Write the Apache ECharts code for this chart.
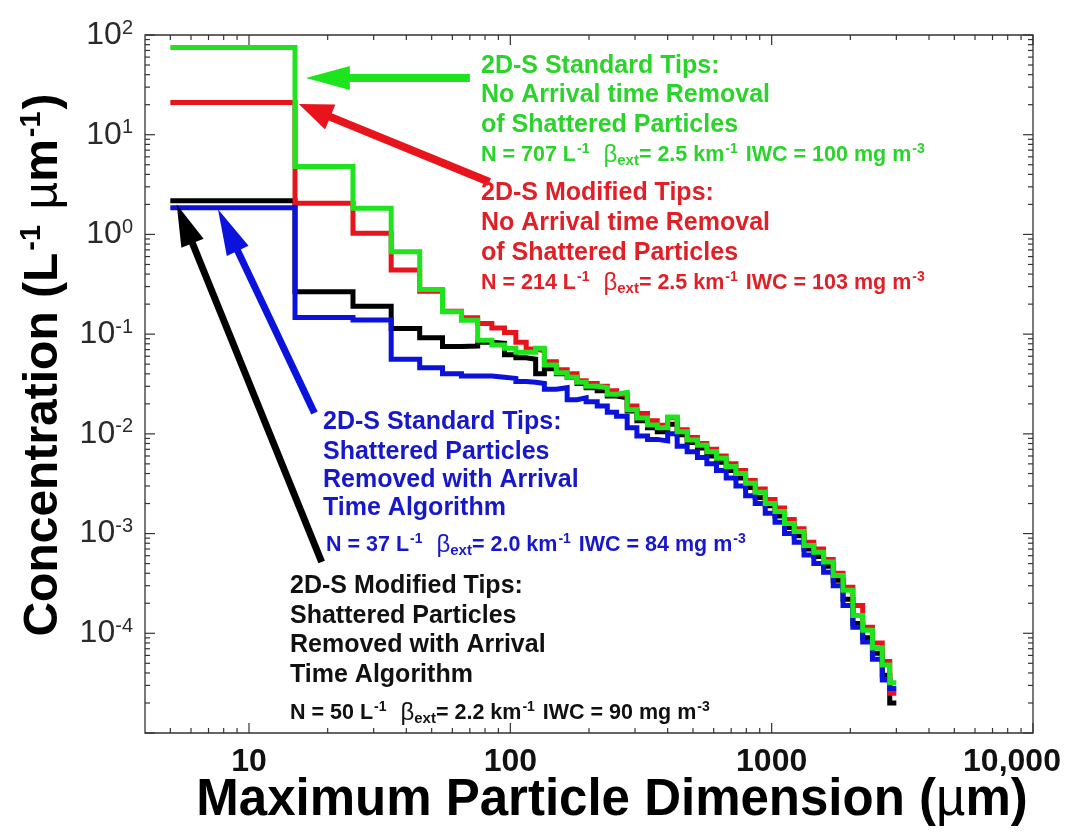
<!DOCTYPE html>
<html>
<head>
<meta charset="utf-8">
<script src="https://cdn.jsdelivr.net/npm/echarts@6/dist/echarts.min.js"></script>
<style>
  html, body { margin: 0; padding: 0; background: #ffffff; }
  #chart { width: 1069px; height: 837px; }
</style>
</head>
<body>
<div id="chart"></div>
<script>
// Size-bin edges (µm) shared by all four 2D-S size distributions
const binEdges = [5, 15, 25, 35, 45, 55, 65, 75, 85, 95,
  105, 115, 125, 135, 150, 165, 180, 195, 215, 235,
  255, 280, 305, 335, 365, 400, 435, 475, 520, 565,
  615, 670, 730, 795, 865, 945, 1030, 1120, 1220, 1330,
  1450, 1580, 1720, 1875, 2045, 2230, 2430, 2650, 2830, 3000];

// Concentration per bin (L^-1 µm^-1)
// 2D-S standard tips, no arrival-time removal
const stdNoRemoval = [75, 4.8, 1.83, 0.67, 0.28, 0.168, 0.138, 0.087, 0.078, 0.072,
  0.066, 0.066, 0.072, 0.049, 0.041, 0.037, 0.033, 0.030, 0.029, 0.025,
  0.026, 0.0174, 0.0144, 0.0123, 0.0115, 0.0148, 0.0105, 0.0087, 0.0077, 0.0066,
  0.0057, 0.0047, 0.0040, 0.0032, 0.0026, 0.0020, 0.00166, 0.00126, 0.00105, 0.00076,
  0.00065, 0.00052, 0.00038, 0.00027, 0.000151, 0.000107, 0.000071, 0.000048, 0.000032];
// 2D-S modified tips, no arrival-time removal
const modNoRemoval = [21, 2.05, 1.03, 0.44, 0.27, 0.17, 0.146, 0.128, 0.115, 0.104,
  0.083, 0.071, 0.068, 0.053, 0.044, 0.040, 0.034, 0.032, 0.030, 0.027,
  0.025, 0.019, 0.016, 0.0135, 0.0122, 0.0145, 0.011, 0.0092, 0.0080, 0.0070,
  0.0060, 0.0050, 0.0043, 0.0034, 0.0028, 0.0022, 0.0018, 0.00138, 0.00112, 0.00082,
  0.00070, 0.00055, 0.00040, 0.00029, 0.00019, 0.000115, 0.000080, 0.000052, 0.000025];
// 2D-S standard tips, shattered particles removed
const stdRemoved = [1.85, 0.147, 0.139, 0.056, 0.046, 0.040, 0.038, 0.038, 0.037, 0.036,
  0.0335, 0.033, 0.032, 0.028, 0.029, 0.022, 0.023, 0.021, 0.019, 0.0165,
  0.015, 0.0115, 0.0095, 0.0088, 0.0085, 0.0100, 0.0075, 0.0066, 0.0058, 0.0050,
  0.0043, 0.0036, 0.0030, 0.0024, 0.0020, 0.0016, 0.0013, 0.0010, 0.00082, 0.00061,
  0.00050, 0.00041, 0.00030, 0.00019, 0.000115, 0.000082, 0.000055, 0.000034, 0.000028];
// 2D-S modified tips, shattered particles removed
const modRemoved = [2.18, 0.266, 0.19, 0.114, 0.092, 0.075, 0.076, 0.083, 0.081, 0.062,
  0.058, 0.056, 0.040, 0.045, 0.040, 0.037, 0.032, 0.029, 0.027, 0.024,
  0.023, 0.017, 0.0135, 0.0115, 0.0105, 0.0125, 0.0098, 0.0082, 0.0072, 0.0060,
  0.0052, 0.0043, 0.0036, 0.0029, 0.0023, 0.0019, 0.0015, 0.00115, 0.00095, 0.00070,
  0.00059, 0.00047, 0.00034, 0.00022, 0.000125, 0.000090, 0.000063, 0.000038, 0.000020];

// Bulk quantities quoted for each distribution: green, red, blue, black
const totalN = [707, 214, 37, 50];
const betaExt = ['2.5', '2.5', '2.0', '2.2'];
const iwc = [100, 103, 84, 90];

// Axis labels
const xTickValues = [10, 100, 1000, 10000];
const xTickLabels = ['10', '100', '1000', '10,000'];
const yDecades = [2, 1, 0, -1, -2, -3, -4];

const X_MIN = 4, X_MAX = 10000, Y_MIN = 1e-5, Y_MAX = 100;
const FONT = "'Liberation Sans', Arial, Helvetica, sans-serif";
const C = {
  green: '#1ee41e', red: '#e8141c', blue: '#0a12dc', black: '#000000',
  greenText: '#2ad42a', redText: '#e01f26', blueText: '#1717cc', blackText: '#111111'
};

// Step outline: each bin value held from its lower edge to its upper edge
function stepData(vals) {
  return binEdges.map((e, i) => [e, vals[Math.min(i, vals.length - 1)]]);
}

function isDecade(v) {
  const l = Math.log10(v);
  return Math.abs(l - Math.round(l)) < 1e-6;
}

// Tick positions: every 1..9 multiple of each decade inside the axis range
const xTicks = [];
for (let p = 0; p <= 4; p++) for (let m = 1; m <= 9; m++) {
  const v = m * Math.pow(10, p);
  if (v > X_MIN && v <= X_MAX) xTicks.push(v);
}
const yTicks = [];
for (let p = -5; p <= 2; p++) for (let m = 1; m <= 9; m++) {
  const v = m * Math.pow(10, p);
  if (v >= Y_MIN && v <= Y_MAX * 1.0001) yTicks.push(v);
}

const TICK_STYLE = { stroke: '#333', lineWidth: 1.2 };

function xTickItem(params, api) {
  const v = api.value(0);
  const len = isDecade(v) ? 10 : 5;
  const b = api.coord([v, Y_MIN]);
  const t = api.coord([v, Y_MAX]);
  return { type: 'group', children: [
    { type: 'line', shape: { x1: b[0], y1: b[1], x2: b[0], y2: b[1] - len }, style: TICK_STYLE },
    { type: 'line', shape: { x1: t[0], y1: t[1], x2: t[0], y2: t[1] + len }, style: TICK_STYLE }
  ] };
}
function yTickItem(params, api) {
  const v = api.value(1);
  const len = isDecade(v) ? 10 : 5;
  const l = api.coord([X_MIN, v]);
  const r = api.coord([X_MAX, v]);
  return { type: 'group', children: [
    { type: 'line', shape: { x1: l[0], y1: l[1], x2: l[0] + len, y2: l[1] }, style: TICK_STYLE },
    { type: 'line', shape: { x1: r[0], y1: r[1], x2: r[0] - len, y2: r[1] }, style: TICK_STYLE }
  ] };
}

// Pointer arrows: tail and tip given in data units, head drawn as a filled triangle
const ARROW_STYLE = {
  green: { color: C.green, shaft: 8, headLen: 44, headW: 24 },
  red:   { color: C.red,   shaft: 8, headLen: 34, headW: 27 },
  blue:  { color: C.blue,  shaft: 7, headLen: 46, headW: 24 },
  black: { color: C.black, shaft: 7, headLen: 42, headW: 24 }
};
const arrowDefs = [
  { key: 'black', tail: [18.97, 5.18e-4], tip: [5.29, 2.0] },
  { key: 'red',   tail: [83.2, 3.36],     tip: [15.5, 20.3] },
  { key: 'blue',  tail: [17.8, 0.0162],   tip: [7.61, 1.79] },
  { key: 'green', tail: [70, 37],         tip: [16.5, 37] }
];
function arrowItem(params, api) {
  const def = arrowDefs[params.dataIndex];
  const st = ARROW_STYLE[def.key];
  const a = api.coord([api.value(0), api.value(1)]);
  const b = api.coord([api.value(2), api.value(3)]);
  const dx = b[0] - a[0], dy = b[1] - a[1];
  const L = Math.sqrt(dx * dx + dy * dy);
  const ux = dx / L, uy = dy / L, nx = -uy, ny = ux;
  const bx = b[0] - ux * st.headLen, by = b[1] - uy * st.headLen;
  const hw = st.headW / 2;
  return { type: 'group', children: [
    { type: 'line', shape: { x1: a[0], y1: a[1], x2: bx + ux * 2, y2: by + uy * 2 },
      style: { stroke: st.color, lineWidth: st.shaft, lineCap: 'butt' } },
    { type: 'polygon', shape: { points: [[b[0], b[1]], [bx + nx * hw, by + ny * hw], [bx - nx * hw, by - ny * hw]] },
      style: { fill: st.color } }
  ] };
}

function stepSeries(name, vals, color, z) {
  return {
    name: name, type: 'line', step: 'end', data: stepData(vals),
    symbol: 'none', showSymbol: false, silent: true, animation: false, z: z,
    lineStyle: { color: color, width: 5, join: 'miter', cap: 'butt' },
    itemStyle: { color: color }
  };
}

// Text blocks
function textLine(x, y, text, color) {
  return { type: 'text', x: x, y: y, silent: true, z: 20,
    style: { text: text, fill: color, fontSize: 25, fontWeight: 'bold', fontFamily: FONT,
      align: 'left', verticalAlign: 'middle' } };
}
function statsLine(x, y, color, i) {
  const tok = (s) => ({ fill: color, fontFamily: FONT, fontWeight: 'bold', ...s });
  return { type: 'text', x: x, y: y, silent: true, z: 20,
    style: {
      text: '{t|N = ' + totalN[i] + ' L}{sp|-1}{t|  }{g|\u03b2}{sb|ext}{t|= ' + betaExt[i] +
            ' km}{sp|-1}{t| IWC = ' + iwc[i] + ' mg m}{sp|-3}',
      fill: color, align: 'left', verticalAlign: 'middle', fontFamily: FONT,
      rich: {
        t: tok({ fontSize: 21.5, lineHeight: 26 }),
        g: tok({ fontSize: 24, lineHeight: 26, fontWeight: 'normal' }),
        sp: tok({ fontSize: 14, lineHeight: 8, verticalAlign: 'top', padding: [0, 2, 0, 1] }),
        sb: tok({ fontSize: 15, lineHeight: 8, verticalAlign: 'bottom' })
      }
    } };
}

const blocks = [
  { x: 481, ys: [66, 95, 125], sy: 155, sx: 481, color: C.greenText, idx: 0,
    lines: ['2D-S Standard Tips:', 'No Arrival time Removal', 'of Shattered Particles'] },
  { x: 481, ys: [193, 223, 253], sy: 283, sx: 481, color: C.redText, idx: 1,
    lines: ['2D-S Modified Tips:', 'No Arrival time Removal', 'of Shattered Particles'] },
  { x: 323, ys: [422, 452, 480, 508], sy: 545, sx: 326, color: C.blueText, idx: 2,
    lines: ['2D-S Standard Tips:', 'Shattered Particles', 'Removed with Arrival', 'Time Algorithm'] },
  { x: 290, ys: [586, 616, 645, 675], sy: 713, sx: 290, color: C.blackText, idx: 3,
    lines: ['2D-S Modified Tips:', 'Shattered Particles', 'Removed with Arrival', 'Time Algorithm'] }
];

const graphics = [];
blocks.forEach(b => {
  b.lines.forEach((t, k) => graphics.push(textLine(b.x, b.ys[k], t, b.color)));
  graphics.push(statsLine(b.sx, b.sy, b.color, b.idx));
});

// Axis titles
graphics.push({ type: 'text', x: 612, y: 801, silent: true,
  style: { text: '{a|Maximum Particle Dimension (}{m|\u00b5}{a|m)}', align: 'center', verticalAlign: 'middle',
    rich: {
      a: { fontSize: 51, fontWeight: 'bold', fontFamily: FONT, fill: '#000' },
      m: { fontSize: 51, fontWeight: 'normal', fontFamily: FONT, fill: '#000' }
    } } });
graphics.push({ type: 'text', x: 44, y: 365, rotation: Math.PI / 2, silent: true,
  style: { text: '{a|Concentration (L}{s|-1}{a| }{m|\u00b5}{a|m}{s|-1}{a|)}', align: 'center', verticalAlign: 'middle',
    rich: {
      a: { fontSize: 48, fontWeight: 'bold', fontFamily: FONT, fill: '#000', lineHeight: 54 },
      m: { fontSize: 48, fontWeight: 'normal', fontFamily: FONT, fill: '#000', lineHeight: 54 },
      s: { fontSize: 29, fontWeight: 'bold', fontFamily: FONT, fill: '#000', lineHeight: 16, verticalAlign: 'top', padding: [0, 2, 0, 2] }
    } } });

const chart = echarts.init(document.getElementById('chart'), null, { renderer: 'canvas' });
chart.setOption({
  animation: false,
  backgroundColor: '#ffffff',
  grid: { left: 145, right: 36, top: 35, bottom: 104, show: true, borderColor: '#333', borderWidth: 1.3,
    backgroundColor: 'transparent', containLabel: false, outerBoundsMode: 'none' },
  xAxis: {
    type: 'log', logBase: 10, min: X_MIN, max: X_MAX,
    axisLine: { show: false }, axisTick: { show: false }, splitLine: { show: false },
    minorTick: { show: false },
    axisLabel: {
      showMinLabel: true, showMaxLabel: true, margin: 13,
      formatter: function (v) {
        for (let i = 0; i < xTickValues.length; i++) {
          if (Math.abs(Math.log10(v) - Math.log10(xTickValues[i])) < 1e-6) {
            return (i === xTickValues.length - 1 ? '{last|' : '{n|') + xTickLabels[i] + '}';
          }
        }
        return '';
      },
      rich: {
        n: { fontSize: 32, fontWeight: 'bold', fontFamily: FONT, color: '#111' },
        last: { fontSize: 32, fontWeight: 'bold', fontFamily: FONT, color: '#111', padding: [0, 42, 0, 0] }
      }
    }
  },
  yAxis: {
    type: 'log', logBase: 10, min: Y_MIN, max: Y_MAX,
    axisLine: { show: false }, axisTick: { show: false }, splitLine: { show: false },
    minorTick: { show: false },
    axisLabel: {
      showMinLabel: true, showMaxLabel: true, margin: 12,
      formatter: function (v) {
        const e = Math.round(Math.log10(v));
        if (!isDecade(v) || yDecades.indexOf(e) < 0) return '';
        return '{b|10}{s|' + e + '}';
      },
      rich: {
        b: { fontSize: 32, fontFamily: FONT, color: '#2a2a2a', lineHeight: 34 },
        s: { fontSize: 20, fontFamily: FONT, color: '#2a2a2a', lineHeight: 8, verticalAlign: 'top' }
      }
    }
  },
  series: [
    { type: 'custom', name: 'xticks', renderItem: xTickItem, clip: false, silent: true, z: 1,
      data: xTicks.map(v => [v, Y_MIN]) },
    { type: 'custom', name: 'yticks', renderItem: yTickItem, clip: false, silent: true, z: 1,
      data: yTicks.map(v => [X_MIN, v]) },
    stepSeries('2D-S Modified Tips, removed', modRemoved, C.black, 3),
    stepSeries('2D-S Modified Tips, no removal', modNoRemoval, C.red, 4),
    stepSeries('2D-S Standard Tips, removed', stdRemoved, C.blue, 5),
    stepSeries('2D-S Standard Tips, no removal', stdNoRemoval, C.green, 6),
    { type: 'custom', name: 'arrows', renderItem: arrowItem, clip: false, silent: true, z: 7,
      encode: { x: [0, 2], y: [1, 3] },
      data: arrowDefs.map(d => [d.tail[0], d.tail[1], d.tip[0], d.tip[1]]) }
  ],
  graphic: { elements: graphics }
});
</script>
</body>
</html>
